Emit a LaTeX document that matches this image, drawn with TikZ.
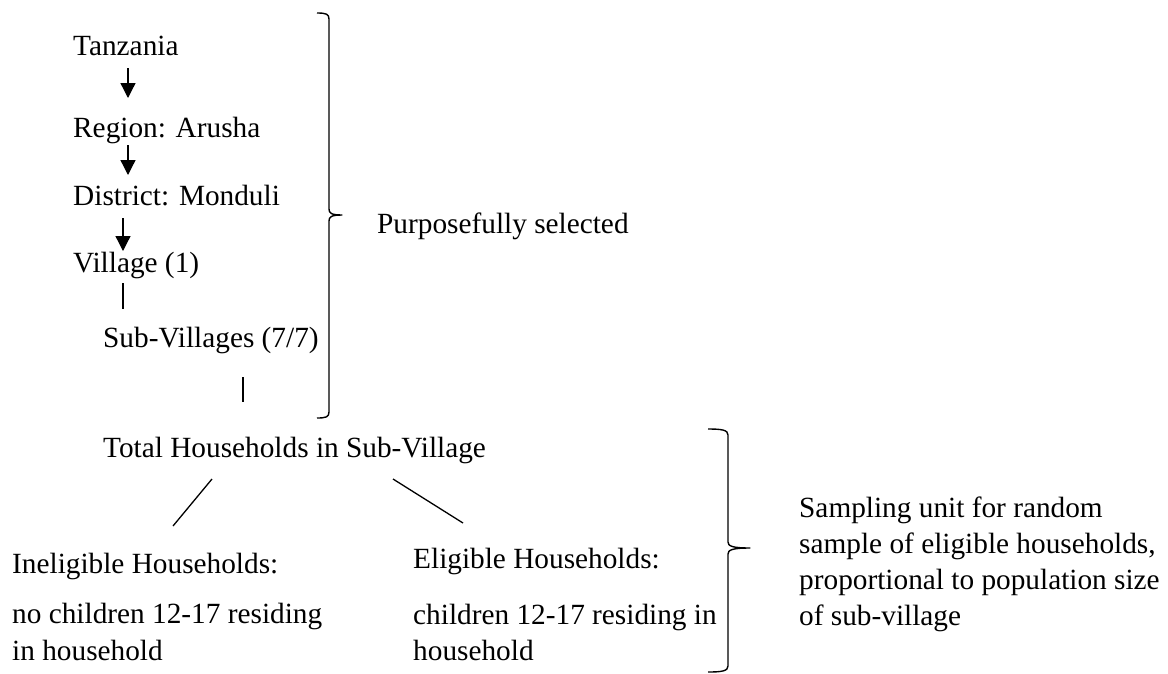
\documentclass[tikz,border=0pt]{standalone}
\usepackage{fontspec}
\setmainfont{Liberation Serif}
\usetikzlibrary{arrows.meta}
\begin{document}
\begin{tikzpicture}[x=1pt,y=-1pt,
  lbl/.style={anchor=base west,inner sep=0pt,font=\fontsize{29.3}{36}\selectfont},
  para/.style={lbl,align=left},
  link/.style={line width=1.3pt},
  down/.style={link,-{Triangle[width=15pt,length=15pt]}},
  brace/.style={line width=1.4pt,line join=round}]
\useasboundingbox (0,0) rectangle (1168,673);

% stages of the selection
\node[lbl] (tz)  at (73,55)  {Tanzania};
\node[lbl] (reg) at (73,137) {Region: Arusha};
\node[lbl] (dis) at (73,205) {District: Monduli};
\node[lbl] (vil) at (73,272) {Village (1)};
\node[lbl] (sub) at (103,347) {Sub-Villages (7/7)};
\node[lbl] (tot) at (103,457) {Total Households in Sub-Village};
\node[lbl] (inel) at (12,573) {Ineligible Households:};
\node[lbl] (inelx) at (12,623) {no children 12-17 residing};
\node[lbl] (inely) at (12,660) {in household};
\node[lbl] (elig) at (413,568) {Eligible Households:};
\node[lbl] (eligx) at (413,624) {children 12-17 residing in};
\node[lbl] (eligy) at (413,660) {household};
\node[lbl] (purp) at (377,233) {Purposefully selected};
\node[lbl] (samp1) at (799,517) {Sampling unit for random};
\node[lbl] (samp2) at (799,553) {sample of eligible households,};
\node[lbl] (samp3) at (799,589) {proportional to population size};
\node[lbl] (samp4) at (799,625) {of sub-village};

% connector end points
\coordinate (a1s) at (128,68);  \coordinate (a1e) at (128,98);
\coordinate (a2s) at (128,145); \coordinate (a2e) at (128,175);
\coordinate (a3s) at (123,218); \coordinate (a3e) at (123,251);
\coordinate (v1s) at (123,283); \coordinate (v1e) at (123,309);
\coordinate (v2s) at (243,377); \coordinate (v2e) at (243,402);
\coordinate (l1s) at (212,479); \coordinate (l1e) at (173,526);
\coordinate (l2s) at (393,479); \coordinate (l2e) at (463,523);

\draw[down] (a1s) -- (a1e);
\draw[down] (a2s) -- (a2e);
\draw[down] (a3s) -- (a3e);
\draw[link] (v1s) -- (v1e);
\draw[link] (v2s) -- (v2e);
\draw[link] (l1s) -- (l1e);
\draw[link] (l2s) -- (l2e);

% right braces
\coordinate (b1t) at (317,13);
\coordinate (b1m) at (342,215);
\coordinate (b1b) at (317,418);
\draw[brace] (b1t) .. controls (326,13) and (329,14) .. (329,19)
  -- (329,209) .. controls (329,213) and (331,215) .. (b1m)
  .. controls (331,215) and (329,217) .. (329,221)
  -- (329,412) .. controls (329,417) and (326,418) .. (b1b);

\coordinate (b2t) at (708,429);
\coordinate (b2m) at (750,548);
\coordinate (b2b) at (708,672);
\draw[brace] (b2t) .. controls (722,429) and (728,430) .. (728,435)
  -- (728,542) .. controls (728,546) and (732,548) .. (b2m)
  .. controls (732,548) and (728,550) .. (728,554)
  -- (728,666) .. controls (728,671) and (722,672) .. (b2b);
\end{tikzpicture}
\end{document}
